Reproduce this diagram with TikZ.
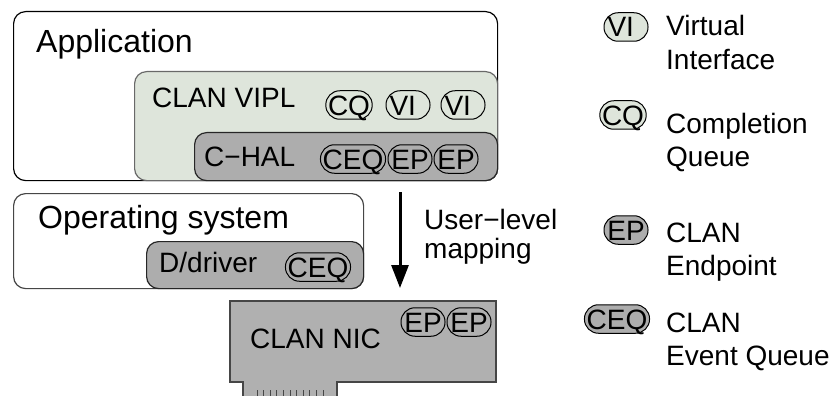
\documentclass[tikz,border=0pt]{standalone}
\usepackage{fontspec}
\setmainfont{Liberation Sans}
\usetikzlibrary{arrows.meta}
\definecolor{viplfill}{RGB}{222,229,219}
\definecolor{halfill}{RGB}{173,173,173}
\definecolor{nicfill}{RGB}{176,176,176}
\definecolor{edgegray}{RGB}{70,70,70}
\definecolor{vipledge}{RGB}{105,105,105}
\begin{document}
\begin{tikzpicture}[x=1pt,y=-1pt,
  layer/.style={draw, line width=1.2pt, rounded corners=12pt, anchor=north west,
    inner sep=0pt},
  title/.style={anchor=base west, inner sep=0pt, font=\fontsize{32}{38}\selectfont},
  label/.style={anchor=base west, inner sep=0pt, font=\fontsize{28}{33}\selectfont},
  pill/.style={draw, line width=1pt, rounded corners=14pt, minimum height=28.5pt,
    minimum width=44pt, inner xsep=2.2pt, inner ysep=0pt, text height=20pt,
    text depth=0pt, font=\fontsize{28}{30}\selectfont},
  vipill/.style={pill, text width=37pt, align=left},
  ticks/.style={draw=edgegray, line width=1pt}]
\path[use as bounding box] (0,0) rectangle (831,396);

% application layer with the VIPL library and the hardware abstraction layer
\node[layer, fill=white, minimum width=484pt, minimum height=169pt] (app) at (13,11) {};
\node[layer, draw=vipledge, fill=viplfill, minimum width=363pt, minimum height=109pt] (vipl) at (134,71) {};
\node[layer, draw=black!85, fill=halfill, minimum width=303pt, minimum height=48pt] (hal) at (194,132) {};
\node[title] (apptxt) at (36,53) {Application};
\node[label] (vipltxt) at (152,107) {CLAN VIPL};
\node[label] (haltxt) at (204,167) {C−HAL};
\node[pill] (cq1) at (349,105) {CQ};
\node[vipill] (vi1) at (408,105) {VI};
\node[vipill] (vi2) at (463,105) {VI};
\node[pill] (ceq1) at (353,159) {CEQ};
\node[pill] (ep1) at (410,159) {EP};
\node[pill] (ep2) at (456,159) {EP};

% operating system with the device driver
\node[layer, draw=edgegray, fill=white, minimum width=350pt, minimum height=95pt] (os) at (13,193) {};
\node[layer, draw=black!85, fill=halfill, minimum width=217pt, minimum height=47pt] (drv) at (146,241) {};
\node[title] (ostxt) at (38,228) {Operating system};
\node[label] (drvtxt) at (159,272) {D/driver};
\node[pill] (ceq2) at (318,267) {CEQ};

% user-level mapping arrow
\coordinate (maptop) at (400,192);
\coordinate (maptip) at (400,288);
\draw[line width=3pt, -{Triangle[length=23pt,width=17pt]}] (maptop) -- (maptip);
\node[label] (ul1) at (424,229) {User−level};
\node[label] (ul2) at (424,258) {mapping};

% network interface card with its edge connector
\fill[nicfill] (230,301) -- (496,301) -- (496,382) -- (337,382) -- (337,400)
  -- (243,400) -- (243,382) -- (230,382) -- cycle;
\draw[edgegray, line width=1.2pt] (243,400) -- (243,382) -- (230,382) -- (230,301)
  -- (496,301) -- (496,382) -- (337,382) -- (337,400);
\foreach \i in {0,...,10}
  \draw[ticks] (257+\i*6.6,390) -- (257+\i*6.6,397);
\node[label] (nictxt) at (250,348) {CLAN NIC};
\node[pill] (ep3) at (423,322) {EP};
\node[pill] (ep4) at (469,322) {EP};

% legend
\node[vipill, fill=viplfill] (kvi) at (626,27) {VI};
\node[pill, fill=viplfill] (kcq) at (623,115) {CQ};
\node[pill, fill=halfill] (kep) at (626,230) {EP};
\node[pill, fill=halfill] (kceq) at (617,319) {CEQ};
\node[label] (kvi1) at (666,36) {Virtual};
\node[label] (kvi2) at (666,70) {Interface};
\node[label] (kcq1) at (666,133) {Completion};
\node[label] (kcq2) at (666,166) {Queue};
\node[label] (kep1) at (666,242) {CLAN};
\node[label] (kep2) at (666,275) {Endpoint};
\node[label] (kceq1) at (666,332) {CLAN};
\node[label] (kceq2) at (666,365) {Event Queue};
\end{tikzpicture}
\end{document}
